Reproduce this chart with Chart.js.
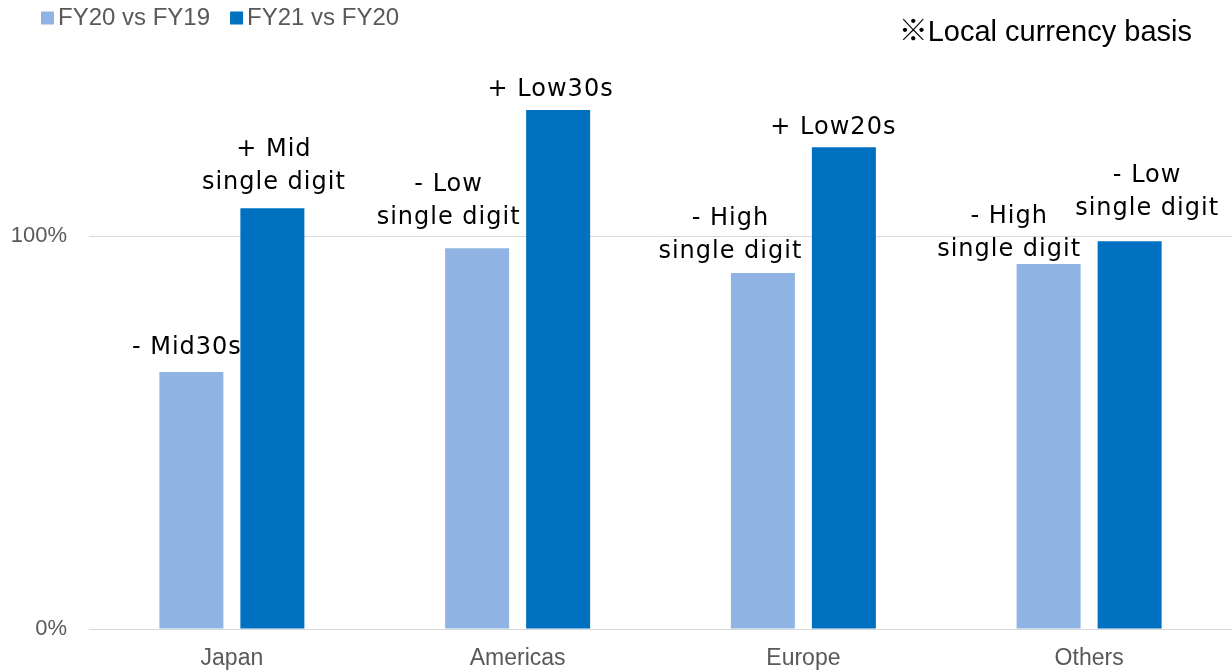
<!DOCTYPE html>
<html>
<head>
<meta charset="utf-8">
<script src="https://cdn.jsdelivr.net/npm/chart.js@4/dist/chart.umd.min.js"></script>
<style>
  html, body { margin: 0; padding: 0; background: #ffffff; }
  #wrap { width: 1232px; height: 671px; position: relative; overflow: hidden; }
</style>
</head>
<body>
<div id="wrap"><canvas id="c" width="1232" height="671"></canvas></div>
<script>
// Regions on the category axis
const categories = ['Japan', 'Americas', 'Europe', 'Others'];

// Sales index (previous year = 100%)
const seriesNames = ['FY20 vs FY19', 'FY21 vs FY20'];
const fy20vsFy19 = [65.4, 96.9, 90.6, 92.9];
const fy21vsFy20 = [107.1, 132.1, 122.6, 98.7];

// Growth descriptions printed above each bar
const fy20Labels = [['- Mid30s'], ['- Low', 'single digit'], ['- High', 'single digit'], ['- High', 'single digit']];
const fy21Labels = [['+ Mid', 'single digit'], ['+ Low30s'], ['+ Low20s'], ['- Low', 'single digit']];

// Y-axis tick values shown
const yTicks = [0, 100];

const note = '※Local currency basis';

// Hand-placed label nudges [dx, dy of last line centre from bar top]
const fy20LabelNudge = [[-5, -24], [-29, -31], [-33, -21], [-40, -14]];
const fy21LabelNudge = [[1, -25], [-8, -20], [-11, -20], [17, -32]];

const COLORS = ['#8fb4e3', '#0070c0'];
const GRAY = '#595959';
const GRID = '#d9d9d9';

const barLabels = {
  id: 'barLabels',
  afterDatasetsDraw(chart) {
    const ctx = chart.ctx;
    const texts = [fy20Labels, fy21Labels];
    const nudges = [fy20LabelNudge, fy21LabelNudge];
    ctx.save();
    ctx.font = '24px "DejaVu Sans"';
    ctx.letterSpacing = '1px';
    ctx.fillStyle = '#000000';
    ctx.textAlign = 'center';
    ctx.textBaseline = 'middle';
    const lineH = 33;
    chart.data.datasets.forEach((ds, di) => {
      const meta = chart.getDatasetMeta(di);
      meta.data.forEach((bar, i) => {
        const lines = texts[di][i];
        const [dx, dy] = nudges[di][i];
        const lastY = bar.y + dy;
        lines.forEach((ln, k) => {
          const y = lastY - (lines.length - 1 - k) * lineH;
          ctx.fillText(ln, bar.x + dx + 0.5, y);
        });
      });
    });
    ctx.restore();
  }
};

const headerItems = {
  id: 'headerItems',
  afterDraw(chart) {
    const ctx = chart.ctx;
    ctx.save();
    // legend
    ctx.font = '24px "Liberation Sans", Arial, sans-serif';
    ctx.textBaseline = 'middle';
    ctx.textAlign = 'left';
    let x = 41;
    const y = 18;
    chart.data.datasets.forEach((ds) => {
      ctx.fillStyle = ds.backgroundColor;
      ctx.fillRect(x, y - 6.5, 13, 13);
      ctx.fillStyle = GRAY;
      ctx.fillText(ds.label, x + 17, y);
      x += 17 + ctx.measureText(ds.label).width + 20;
    });
    // note at top right
    ctx.font = '29px "Liberation Sans", "Noto Sans CJK JP", sans-serif';
    ctx.fillStyle = '#000000';
    ctx.textAlign = 'right';
    ctx.fillText(note, 1192, 33);
    ctx.restore();
  }
};

new Chart(document.getElementById('c'), {
  type: 'bar',
  data: {
    labels: categories,
    datasets: [
      { label: seriesNames[0], data: fy20vsFy19, backgroundColor: COLORS[0] },
      { label: seriesNames[1], data: fy21vsFy20, backgroundColor: COLORS[1] }
    ]
  },
  options: {
    responsive: false,
    animation: false,
    devicePixelRatio: 1,
    layout: { padding: { top: 79, right: -4, bottom: 0, left: 0 } },
    datasets: { bar: { categoryPercentage: 0.567, barPercentage: 0.79 } },
    plugins: {
      legend: { display: false },
      tooltip: { enabled: false }
    },
    scales: {
      x: {
        grid: { display: false, drawTicks: false },
        border: { display: true, color: GRID, width: 1 },
        ticks: {
          color: GRAY,
          padding: 16,
          font: { family: '"Liberation Sans", Arial, sans-serif', size: 23 }
        },
        afterFit(scale) { scale.height = 42; }
      },
      y: {
        min: 0,
        max: 140,
        grid: { color: GRID, drawTicks: false, lineWidth: 1 },
        border: { display: false },
        ticks: {
          color: GRAY,
          padding: 22,
          font: { family: '"Liberation Sans", Arial, sans-serif', size: 22 },
          callback: (v) => v + '%'
        },
        afterBuildTicks(scale) {
          scale.ticks = yTicks.map((v) => ({ value: v }));
        },
        afterFit(scale) { scale.width = 89; }
      }
    }
  },
  plugins: [barLabels, headerItems]
});
</script>
</body>
</html>
